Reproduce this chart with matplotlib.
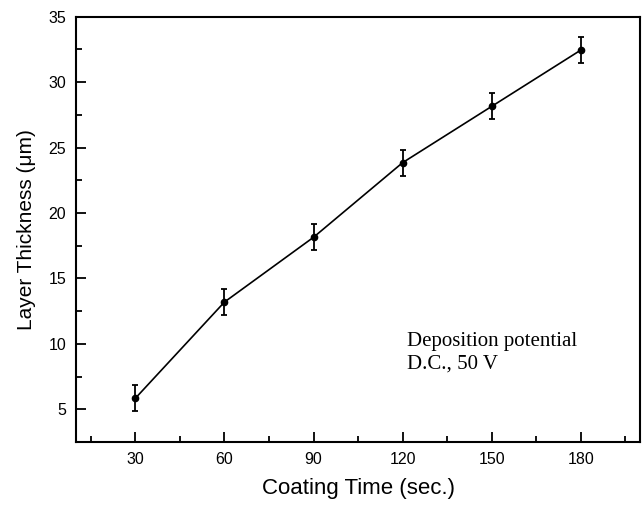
import numpy as np
import matplotlib.pyplot as plt
import matplotlib as mpl
from matplotlib.ticker import MultipleLocator

mpl.rcParams["font.family"] = "Liberation Sans"

# coating time (sec.) vs layer thickness (um)
coating_time = [30, 60, 90, 120, 150, 180]
thickness = [5.85, 13.2, 18.15, 23.85, 28.15, 32.45]
thickness_err = [1.0, 1.0, 1.0, 1.0, 1.0, 1.0]

fig = plt.figure(figsize=(6.44, 5.07), dpi=100)
ax = fig.add_axes([0.118, 0.128, 0.876, 0.839])

ax.errorbar(coating_time, thickness, yerr=thickness_err, color="black",
            lw=1.2, marker="o", ms=4.5, capsize=2.5, elinewidth=1.3, capthick=1.3)

ax.set_xlim(10, 200)
ax.set_ylim(2.5, 35)
ax.xaxis.set_minor_locator(MultipleLocator(15))
ax.yaxis.set_minor_locator(MultipleLocator(2.5))
ax.set_xticks(coating_time)
ax.set_yticks([5, 10, 15, 20, 25, 30, 35])

for s in ax.spines.values():
    s.set_linewidth(1.5)
ax.tick_params(which="both", direction="in", top=False, right=False, width=1.3)
ax.tick_params(which="major", length=7, labelsize=11.5, pad=7)
ax.tick_params(which="minor", length=4)

ax.set_xlabel("Coating Time (sec.)", fontsize=16, labelpad=8)
ax.set_ylabel("Layer Thickness (\u03bcm)", fontsize=15, labelpad=9)

# annotation, two lines set separately
ax.text(121.5, 9.83, "Deposition potential", family="Liberation Serif",
        fontsize=15, va="baseline", ha="left")
ax.text(121.5, 8.14, "D.C., 50 V", family="Liberation Serif",
        fontsize=15, va="baseline", ha="left")

fig.savefig("out.png", dpi=100)
